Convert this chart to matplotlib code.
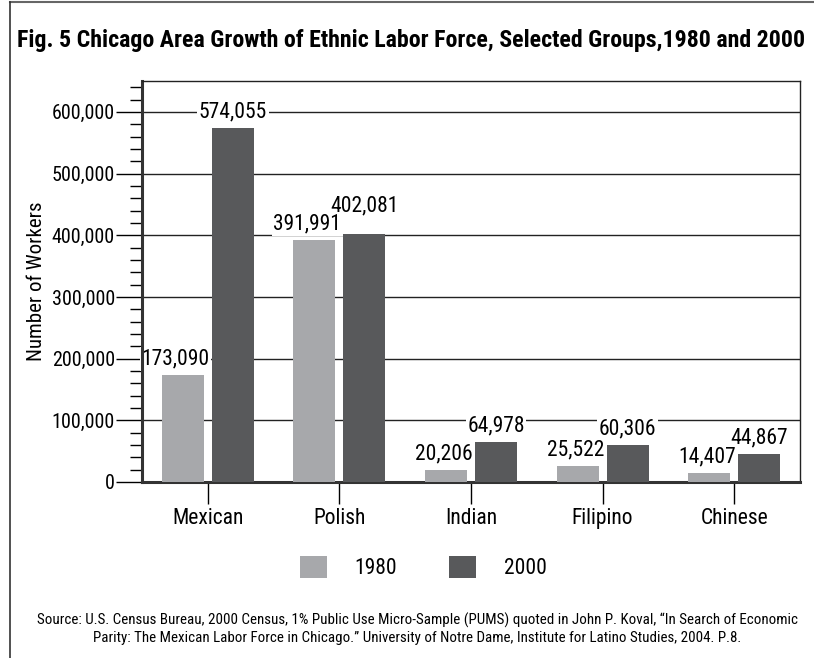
import numpy as np
import matplotlib
matplotlib.use('Agg')
import matplotlib.pyplot as plt
from matplotlib.ticker import MultipleLocator, FuncFormatter
from matplotlib.lines import Line2D
from matplotlib.patches import Patch
from matplotlib.transforms import offset_copy

plt.rcParams['font.family'] = ['Roboto Condensed', 'DejaVu Sans']

groups = ['Mexican', 'Polish', 'Indian', 'Filipino', 'Chinese']
workers_1980 = [173090, 391991, 20206, 25522, 14407]
workers_2000 = [574055, 402081, 64978, 60306, 44867]
years = ['1980', '2000']

c80 = '#a7a8ab'
c00 = '#58595b'
fs = 15.5

fig = plt.figure(figsize=(8.14, 6.58), dpi=100)
ax = fig.add_axes([0.1744, 0.2675, 0.8084, 0.6094])

x = np.arange(len(groups))
w = 0.32
off = 0.19
b1 = ax.bar(x - off, workers_1980, w, color=c80, zorder=3)
b2 = ax.bar(x + off, workers_2000, w, color=c00, zorder=3)

# the Polish pair is close in height, so push its 2000 label up
lift = {('Polish', '2000'): 20000}

labels = {}
for yr, bars, vals, z in (('1980', b1, workers_1980, 2.5), ('2000', b2, workers_2000, 2)):
    for g, r, v in zip(groups, bars, vals):
        labels[(g, yr)] = ax.text(r.get_x() + r.get_width() / 2,
                                  v + 9000 + lift.get((g, yr), 0),
                                  f'{v:,}', ha='center', va='bottom', fontsize=fs, zorder=z,
                                  bbox=dict(facecolor='white', edgecolor='none', pad=1.2))

ax.set_xlim(-0.5, len(groups) - 0.5)
ax.set_ylim(0, 650000)
ax.set_xticks(x)
ax.set_xticklabels(groups, fontsize=fs)
ax.yaxis.set_major_locator(MultipleLocator(100000))
ax.yaxis.set_minor_locator(MultipleLocator(20000))
ax.yaxis.set_major_formatter(FuncFormatter(lambda v, p: f'{int(v):,}'))
ax.tick_params(axis='y', which='major', length=19, width=1, labelsize=14.5, pad=0.5)
ax.tick_params(axis='y', which='minor', length=9, width=1)
ax.tick_params(axis='x', length=16, width=1, pad=3)
ax.yaxis.grid(True, which='major', color='#222222', lw=1, zorder=1)
ax.set_ylabel('Number of Workers', fontsize=15, labelpad=4)

for s in ('left', 'bottom'):
    ax.spines[s].set_linewidth(2.2)
    ax.spines[s].set_color('#333333')
for s in ('top', 'right'):
    ax.spines[s].set_linewidth(1)
    ax.spines[s].set_color('#222222')

# slide 1980 labels left so they stop short of the neighbouring 2000 bar
fig.canvas.draw()
rend = fig.canvas.get_renderer()
for g, r2 in zip(groups, b2):
    t = labels[(g, '1980')]
    right = t.get_window_extent(rend).x1
    limit = ax.transData.transform((r2.get_x(), 0))[0] - 2
    if right > limit:
        t.set_transform(offset_copy(ax.transData, fig=fig, x=(limit - right) * 72 / fig.dpi,
                                    y=0, units='points'))

handles = [Patch(facecolor=c80), Patch(facecolor=c00)]
fig.legend(handles, years, loc='center', bbox_to_anchor=(0.52, 0.138),
           ncol=2, frameon=False, fontsize=fs, handlelength=1.25,
           handleheight=1.2, handletextpad=1.3, columnspacing=2.4)

fig.text(0.505, 0.938,
         'Fig. 5 Chicago Area Growth of Ethnic Labor Force, Selected Groups,1980 and 2000',
         ha='center', va='center', fontsize=17.2, fontweight='bold')
fig.text(0.513, 0.044,
         'Source: U.S. Census Bureau, 2000 Census, 1% Public Use Micro-Sample (PUMS) quoted in John P. Koval, \u201cIn Search of Economic\n'
         'Parity: The Mexican Labor Force in Chicago.\u201d University of Notre Dame, Institute for Latino Studies, 2004. P.8.',
         ha='center', va='center', fontsize=10.8, linespacing=1.25)

# page frame: top rule and left rule
fig.add_artist(Line2D([0.012, 1.0], [0.997, 0.997], color='#666666', lw=1.5))
fig.add_artist(Line2D([0.0125, 0.0125], [0.0, 0.997], color='#333333', lw=1.2))

fig.savefig('out.png', dpi=100)
